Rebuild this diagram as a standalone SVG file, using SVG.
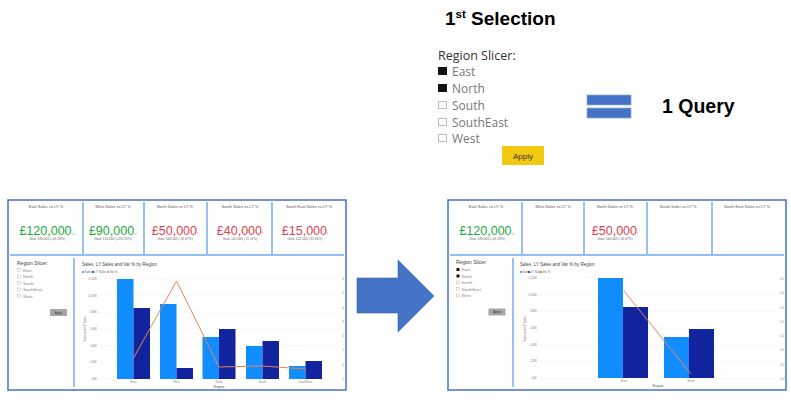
<svg xmlns="http://www.w3.org/2000/svg" width="791" height="400" viewBox="0 0 791 400">
<style>
text{font-family:"Liberation Sans",Arial,sans-serif}
.hd{font-weight:bold;fill:#000}
.sl{font-family:"Open Sans","Liberation Sans",sans-serif;font-size:12.5px;fill:#333}
.it{font-family:"Open Sans","Liberation Sans",sans-serif;font-size:12px;fill:#777}
.frame{fill:#fff;stroke:#4472C4;stroke-width:1.5}
.div{stroke:#6FA8EC;stroke-width:1.4;fill:none}
.kt{font-size:4px;fill:#555;text-anchor:middle}
.kg{font-size:12.5px;fill:#1AAB40;text-anchor:middle}
.kr{font-size:12.5px;fill:#E0424F;text-anchor:middle}
.gl{font-size:3.2px;fill:#666;text-anchor:middle}
.ds{font-size:5px;fill:#444}
.di{font-size:4.2px;fill:#888}
.cb{fill:#fff;stroke:#aaa;stroke-width:0.4}
.cbf{fill:#111}
.ct{font-size:4.5px;fill:#444}
.lg{font-size:3px;fill:#666}
.ax{font-size:3px;fill:#888}
.grid{stroke:#ddd;stroke-width:0.4;stroke-dasharray:1 1}
.s{fill:#118DFF}
.ly{fill:#12239E}
.var{fill:none;stroke:#E8845A;stroke-width:1}
.btn{fill:#a6a6a6}
</style>

<g id="title">
<text class="hd" x="445" y="25" font-size="19">1<tspan font-size="11.5" dy="-7">st</tspan><tspan dy="7"> Selection</tspan></text>
</g>

<g id="region-slicer">
<text class="sl" x="438" y="60">Region Slicer:</text>
<rect class="cbf" x="438" y="67" width="9" height="8"/>
<text class="it" x="452" y="76">East</text>
<rect class="cbf" x="438" y="84" width="9" height="8"/>
<text class="it" x="452" y="93">North</text>
<rect x="438.5" y="101.5" width="8" height="7" fill="#fff" stroke="#bbb" stroke-width="1"/>
<text class="it" x="452" y="110">South</text>
<rect x="438.5" y="118.5" width="8" height="7" fill="#fff" stroke="#bbb" stroke-width="1"/>
<text class="it" x="452" y="127">SouthEast</text>
<rect x="438.5" y="134.5" width="8" height="7" fill="#fff" stroke="#bbb" stroke-width="1"/>
<text class="it" x="452" y="143">West</text>
<rect x="502" y="146" width="42" height="19" fill="#F2C811"/>
<text x="523" y="159" font-size="8" fill="#333" text-anchor="middle">Apply</text>
</g>

<g id="equals">
<rect x="587" y="95" width="44" height="10" fill="#4472C4" stroke="#8FAADC" stroke-width="0.8"/>
<rect x="587" y="108" width="44" height="10" fill="#4472C4" stroke="#8FAADC" stroke-width="0.8"/>
</g>

<g id="one-query">
<text class="hd" x="662" y="113" font-size="19.5">1 Query</text>
</g>

<g id="dashboard-before">
<rect class="frame" x="8" y="200" width="338" height="190"/>
<path class="div" d="M83 202V254M144 202V254M207 202V254M272 202V254M10 255H344M74 258V387"/>
<text class="kt" x="46" y="208">East Sales vs LY %</text>
<text class="kt" x="113" y="208">West Sales vs LY %</text>
<text class="kt" x="175" y="208">North Sales vs LY %</text>
<text class="kt" x="240" y="208">South Sales vs LY %</text>
<text class="kt" x="309" y="208">South East Sales vs LY %</text>
<text class="kg" x="47" y="235">£120,000<tspan font-size="4">✓</tspan></text>
<text class="kg" x="113" y="235">£90,000<tspan font-size="4">✓</tspan></text>
<text class="kr" x="175" y="235">£50,000<tspan font-size="4">!</tspan></text>
<text class="kr" x="240" y="235">£40,000<tspan font-size="4">!</tspan></text>
<text class="kr" x="305" y="235">£15,000<tspan font-size="4">!</tspan></text>
<text class="gl" x="47" y="239.5">Goal: £85,000 (+41.18%)</text>
<text class="gl" x="113" y="239.5">Goal: £13,000 (+592.31%)</text>
<text class="gl" x="175" y="239.5">Goal: £60,000 (-16.67%)</text>
<text class="gl" x="240" y="239.5">Goal: £45,000 (-11.11%)</text>
<text class="gl" x="305" y="239.5">Goal: £22,000 (-31.82%)</text>
<text class="ds" x="17" y="265">Region Slicer:</text>
<rect class="cb" x="17.5" y="268.5" width="3" height="3"/><text class="di" x="23" y="271.5">East</text>
<rect class="cb" x="17.5" y="275" width="3" height="3"/><text class="di" x="23" y="278">North</text>
<rect class="cb" x="17.5" y="281.5" width="3" height="3"/><text class="di" x="23" y="284.5">South</text>
<rect class="cb" x="17.5" y="288" width="3" height="3"/><text class="di" x="23" y="291">SouthEast</text>
<rect class="cb" x="17.5" y="294.5" width="3" height="3"/><text class="di" x="23" y="297.5">West</text>
<rect class="btn" x="50" y="309" width="17" height="7"/>
<text x="58.5" y="313.5" font-size="3" fill="#333" text-anchor="middle">Apply</text>
<text class="ct" x="82" y="266">Sales, LY Sales and Var % by Region</text>
<circle cx="83" cy="272" r="1" fill="#118DFF"/><text class="lg" x="84.5" y="273">Sales</text>
<circle cx="93" cy="272" r="1" fill="#12239E"/><text class="lg" x="94.5" y="273">LY Sales</text>
<circle cx="108" cy="272" r="1" fill="#E66C37"/><text class="lg" x="109.5" y="273">Var %</text>
<path class="grid" d="M100 279H335M100 295.7H335M100 312.3H335M100 329H335M100 345.7H335M100 362.3H335M100 379H335"/>
<g class="ax" text-anchor="end">
<text x="97" y="280">£120K</text><text x="97" y="296.7">£100K</text><text x="97" y="313.3">£80K</text><text x="97" y="330">£60K</text><text x="97" y="346.7">£40K</text><text x="97" y="363.3">£20K</text><text x="97" y="380">£0K</text>
</g>
<g class="ax" text-anchor="middle">
<text x="343" y="280">6</text><text x="343" y="294.3">5</text><text x="343" y="308.6">4</text><text x="343" y="322.9">3</text><text x="343" y="337.1">2</text><text x="343" y="351.4">1</text><text x="343" y="365.7">0</text><text x="343" y="380">-1</text>
</g>
<text class="ax" x="86" y="329" text-anchor="middle" transform="rotate(-90 86 329)">Sales and LY Sales</text>
<rect class="s" x="117" y="279" width="16.5" height="100"/><rect class="ly" x="133.5" y="308" width="16.5" height="71"/>
<rect class="s" x="160" y="304" width="16.5" height="75"/><rect class="ly" x="176.5" y="368" width="16.5" height="11"/>
<rect class="s" x="202.5" y="337" width="16.5" height="42"/><rect class="ly" x="219" y="329" width="16.5" height="50"/>
<rect class="s" x="246" y="346" width="16.5" height="33"/><rect class="ly" x="262.5" y="341" width="16.5" height="38"/>
<rect class="s" x="289" y="366" width="16.5" height="13"/><rect class="ly" x="305.5" y="361" width="16.5" height="18"/>
<polyline class="var" points="133.5,358 176.5,281 219,367 262.5,366 305.5,369"/>
<g class="ax" text-anchor="middle">
<text x="133.5" y="383">East</text><text x="176.5" y="383">West</text><text x="219" y="383">North</text><text x="262.5" y="383">South</text><text x="305.5" y="383">SouthEast</text>
</g>
<text x="219" y="388" font-size="3.5" fill="#555" text-anchor="middle">Region</text>
</g>

<g id="connectors">
<polygon points="357,278 398,278 398,260 434,296 398,332 398,313 357,313" fill="#4472C4" stroke="#3A64B0" stroke-width="0.6"/>
</g>

<g id="dashboard-after" transform="translate(440,0)">
<rect class="frame" x="8" y="200" width="338" height="190"/>
<path class="div" d="M82 202V254M144 202V254M207 202V254M272 202V254M10 255H344M73 258V387"/>
<text class="kt" x="46" y="208">East Sales vs LY %</text>
<text class="kt" x="113" y="208">West Sales vs LY %</text>
<text class="kt" x="175" y="208">North Sales vs LY %</text>
<text class="kt" x="238" y="208">South Sales vs LY %</text>
<text class="kt" x="307" y="208">South East Sales vs LY %</text>
<text class="kg" x="47" y="235">£120,000<tspan font-size="4">✓</tspan></text>
<text class="kr" x="175" y="235">£50,000<tspan font-size="4">!</tspan></text>
<text class="gl" x="47" y="239.5">Goal: £85,000 (+41.18%)</text>
<text class="gl" x="175" y="239.5">Goal: £60,000 (-16.67%)</text>
<text class="ds" x="16" y="264">Region Slicer:</text>
<rect class="cbf" x="16.5" y="268" width="3" height="3"/><text class="di" x="21.5" y="271">East</text>
<rect class="cbf" x="16.5" y="274.5" width="3" height="3"/><text class="di" x="21.5" y="277.5">North</text>
<rect class="cb" x="16.5" y="281" width="3" height="3"/><text class="di" x="21.5" y="284">South</text>
<rect class="cb" x="16.5" y="287.5" width="3" height="3"/><text class="di" x="21.5" y="290.5">SouthEast</text>
<rect class="cb" x="16.5" y="294" width="3" height="3"/><text class="di" x="21.5" y="297">West</text>
<rect class="btn" x="48.5" y="308.5" width="17" height="7"/>
<text x="57" y="313" font-size="3" fill="#333" text-anchor="middle">Apply</text>
<text class="ct" x="80" y="265.5">Sales, LY Sales and Var % by Region</text>
<circle cx="81" cy="272" r="1" fill="#118DFF"/><text class="lg" x="82.5" y="273">Sales</text>
<circle cx="89" cy="272" r="1" fill="#12239E"/><text class="lg" x="90.5" y="273">LY Sales</text>
<circle cx="101" cy="272" r="1" fill="#E66C37"/><text class="lg" x="102.5" y="273">Var %</text>
<path class="grid" d="M100 278H335M100 294.7H335M100 311.3H335M100 328H335M100 344.7H335M100 361.3H335M100 378H335"/>
<g class="ax" text-anchor="end">
<text x="97" y="279">£120K</text><text x="97" y="295.7">£100K</text><text x="97" y="312.3">£80K</text><text x="97" y="329">£60K</text><text x="97" y="345.7">£40K</text><text x="97" y="362.3">£20K</text><text x="97" y="379">£0K</text>
</g>
<g class="ax" text-anchor="middle">
<text x="342" y="280">0.5</text><text x="342" y="294.3">0.4</text><text x="342" y="308.6">0.3</text><text x="342" y="322.9">0.2</text><text x="342" y="337.1">0.1</text><text x="342" y="351.4">0.0</text><text x="342" y="365.7">-0.1</text><text x="342" y="380">-0.2</text>
</g>
<text class="ax" x="86" y="329" text-anchor="middle" transform="rotate(-90 86 329)">Sales and LY Sales</text>
<rect class="s" x="158" y="278" width="25" height="100"/><rect class="ly" x="183" y="307" width="25" height="71"/>
<rect class="s" x="224" y="337" width="25" height="41"/><rect class="ly" x="249" y="329" width="25" height="49"/>
<polyline class="var" points="184,291 251,374"/>
<g class="ax" text-anchor="middle">
<text x="184" y="382">East</text><text x="251" y="382">North</text>
</g>
<text x="218" y="387" font-size="3.5" fill="#555" text-anchor="middle">Region</text>
</g>
</svg>
